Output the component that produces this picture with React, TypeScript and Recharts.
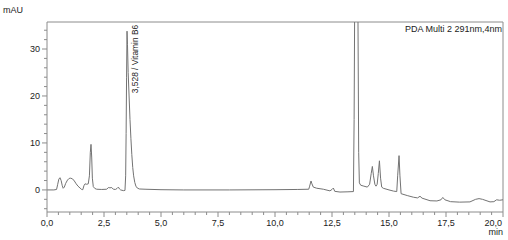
import React from 'react';
import { LineChart, Line, XAxis, YAxis, ReferenceLine, ReferenceDot } from 'recharts';

// Retention time (min)
const times = [
  0.0, 0.3, 0.42, 0.47, 0.52, 0.57, 0.62, 0.67, 0.71, 0.76, 0.82, 0.9, 0.97, 1.04, 1.12, 1.2, 1.28, 1.36,
  1.45, 1.52, 1.57, 1.62, 1.67, 1.74, 1.81, 1.86, 1.9, 1.93, 1.96, 1.99, 2.03, 2.1, 2.18, 2.4, 2.62, 2.69,
  2.76, 2.84, 2.91, 3.0, 3.07, 3.13, 3.18, 3.23, 3.35, 3.42, 3.45, 3.47, 3.49, 3.51, 3.53, 3.56, 3.6, 3.64,
  3.68, 3.72, 3.76, 3.8, 3.85, 3.9, 3.96, 4.05, 4.3, 5.0, 6.0, 8.0, 10.0, 11.0, 11.48, 11.52, 11.58, 11.62,
  11.68, 11.83, 12.12, 12.41, 12.5, 12.56, 12.62, 12.85, 13.2, 13.44, 13.47, 13.5, 13.57, 13.63, 13.67, 13.7,
  13.76, 13.9, 14.05, 14.15, 14.22, 14.27, 14.32, 14.38, 14.43, 14.48, 14.53, 14.58, 14.63, 14.68, 14.75, 15.0,
  15.2, 15.34, 15.38, 15.44, 15.48, 15.53, 15.8, 16.07, 16.25, 16.36, 16.45, 16.8, 17.1, 17.28, 17.36, 17.45,
  17.7, 18.1, 18.55, 18.8, 18.95, 19.1, 19.43, 19.6, 19.72, 19.85, 20.0,
];

// Detector signal (mAU)
const signal = [
  0.0, 0.0, 0.1, 1.2, 2.3, 2.6, 2.0, 0.9, 0.35, 0.6, 1.4, 2.1, 2.45, 2.5, 2.35, 1.9, 1.3, 0.8,
  0.4, 0.1, 0.05, 0.9, 1.3, 1.2, 1.3, 3.0, 8.0, 9.7, 7.0, 2.5, 0.7, 0.3, 0.15, 0.1, 0.15, 0.5,
  0.45, 0.5, 0.15, 0.1, 0.3, 0.6, 0.2, 0.0, -0.15, -0.1, 3, 12, 24, 33.8, 31, 25, 20, 15,
  11, 7.5, 4.8, 3.0, 1.6, 0.8, 0.4, 0.2, 0.15, 0.05, 0.0, 0.0, 0.05, 0.1, 0.15, 0.8, 1.9, 1.3,
  0.6, 0.36, 0.15, -0.2, 0.1, 0.4, -0.3, -0.45, -0.4, -0.35, 15, 45, 80, 45, 8, 1.5,
  1.0, 0.8, 0.6, 1.2, 3.5, 5.0, 3.0, 1.2, 0.8, 1.2, 3.5, 6.2, 2.5, 0.6, 0.35, 0.0,
  -0.25, -0.35, 3.0, 7.3, 3.0, -0.8, -1.2, -1.55, -1.7, -1.35, -1.75, -2.3, -2.35, -2.1, -1.6, -2.1,
  -2.5, -2.6, -2.55, -2.0, -1.85, -2.0, -2.55, -2.5, -2.1, -2.2, -2.1,
];

const xMajorTicks = [0, 2.5, 5, 7.5, 10, 12.5, 15, 17.5, 20];
const xMinorStep = 0.5;
const yMajorTicks = [0, 10, 20, 30];
const yMinorStep = 2;
const xDomain = [0, 20];
const yDomain = [-4.7, 35.75];

const peakTime = 3.528;
const peakHeight = 33.8;
const peakName = 'Vitamin B6';
const channelLabel = 'PDA Multi 2 291nm,4nm';

const data = times.map((t, i) => ({ t, v: signal[i] }));

const xTicks: number[] = [];
for (let k = 0; k <= Math.round((xDomain[1] - xDomain[0]) / xMinorStep); k++) xTicks.push(+(xDomain[0] + k * xMinorStep).toFixed(2));
const yTicks: number[] = [];
for (let v = -4; v <= 34; v += yMinorStep) yTicks.push(v);

const FONT = '"Liberation Sans", Arial, sans-serif';
const TEXT = '#222';
const AXIS = '#8c8c8c';
const LINE = '#737373';
const FS = 9;

const fmt = (v: number, d = 1) => v.toFixed(d).replace('.', ',');

const XTick = (props: any) => {
  const { x, y, payload } = props;
  const v = payload.value as number;
  const major = xMajorTicks.includes(v);
  const last = v === xDomain[1];
  return (
    <g>
      <line x1={x} x2={x} y1={y} y2={y + (major ? 5 : 3)} stroke={AXIS} />
      {major && (
        <text x={last ? x - 1 : x} y={y + 14} textAnchor={last ? 'end' : 'middle'} fontFamily={FONT} fontSize={FS} fill={TEXT}>
          {fmt(v)}
        </text>
      )}
    </g>
  );
};

const YTick = (props: any) => {
  const { x, y, payload } = props;
  const v = payload.value as number;
  const major = yMajorTicks.includes(v);
  return (
    <g>
      <line x1={x - (major ? 5 : 3)} x2={x} y1={y} y2={y} stroke={AXIS} />
      {major && (
        <text x={x - 7} y={y} dy="0.35em" textAnchor="end" fontFamily={FONT} fontSize={FS} fill={TEXT}>
          {v}
        </text>
      )}
    </g>
  );
};

const PeakLabel = (props: any) => {
  const { cx, cy } = props;
  const px = cx + 11;
  const py = cy + 62;
  return (
    <text x={px} y={py} transform={`rotate(-90 ${px} ${py})`} fontFamily={FONT} fontSize={8.4} fill={TEXT}>
      {`${fmt(peakTime, 3)} / ${peakName}`}
    </text>
  );
};

export default function App() {
  return (
    <div style={{ position: 'absolute', left: 0, top: 0, width: 508, height: 240, background: '#fff' }}>
      <LineChart width={508} height={240} data={data} margin={{ top: 22, right: 5, bottom: 0, left: 0 }}>
        <XAxis
          dataKey="t"
          type="number"
          domain={xDomain}
          ticks={xTicks}
          interval={0}
          height={28}
          tick={<XTick />}
          tickLine={false}
          tickSize={0}
          tickMargin={0}
          axisLine={{ stroke: AXIS }}
          allowDataOverflow
          label={{
            content: (p: any) => {
              const vb = p.viewBox;
              return (
                <text x={vb.x + vb.width} y={vb.y + 23} textAnchor="end" fontFamily={FONT} fontSize={FS} fill={TEXT}>
                  min
                </text>
              );
            },
          }}
        />
        <YAxis
          type="number"
          domain={yDomain}
          ticks={yTicks}
          interval={0}
          width={47}
          tick={<YTick />}
          tickLine={false}
          tickSize={0}
          tickMargin={0}
          axisLine={{ stroke: AXIS }}
          allowDataOverflow
          label={{
            content: (p: any) => {
              const vb = p.viewBox;
              return (
                <text x={vb.x + 3} y={vb.y - 9} fontFamily={FONT} fontSize={FS} fill={TEXT}>
                  mAU
                </text>
              );
            },
          }}
        />
        <ReferenceLine y={yDomain[1]} stroke={AXIS} />
        <ReferenceLine
          x={xDomain[1]}
          stroke={AXIS}
          label={{
            content: (p: any) => {
              const vb = p.viewBox;
              return (
                <text x={vb.x - 1} y={vb.y + 10} textAnchor="end" fontFamily={FONT} fontSize={FS} fill={TEXT}>
                  {channelLabel}
                </text>
              );
            },
          }}
        />
        <Line dataKey="v" type="linear" stroke={LINE} strokeWidth={1} dot={false} isAnimationActive={false} />
        <ReferenceDot x={peakTime} y={peakHeight} r={0} shape={<PeakLabel />} />
      </LineChart>
    </div>
  );
}
